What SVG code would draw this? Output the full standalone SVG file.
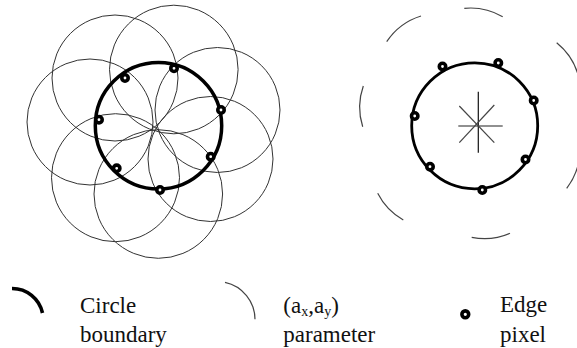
<svg xmlns="http://www.w3.org/2000/svg" width="577" height="348" viewBox="0 0 577 348">
<style>
.thin{fill:none;stroke:#333;stroke-width:1}
.arc{fill:none;stroke:#444;stroke-width:1.2}
.bound{fill:none;stroke:#000;stroke-width:3.2}
.px{fill:#fff;stroke:#000;stroke-width:3.6}
.star{stroke:#444;stroke-width:1.2}
.lbl{font-family:'Liberation Serif','DejaVu Serif',serif;font-size:23px;fill:#111}
</style>
<rect width="577" height="348" fill="#fff"/>
<g id="left-figure">
  <g id="param-circles-left">
    <circle class="thin" cx="115" cy="78" r="63"/>
    <circle class="thin" cx="173.8" cy="69.5" r="64.3"/>
    <circle class="thin" cx="217.5" cy="110" r="62.5"/>
    <circle class="thin" cx="90" cy="122" r="63"/>
    <circle class="thin" cx="210.5" cy="159" r="62.5"/>
    <circle class="thin" cx="115.5" cy="177.7" r="64"/>
    <circle class="thin" cx="158.3" cy="194" r="64.3"/>
  </g>
  <circle id="boundary-left" class="bound" cx="158.5" cy="125.8" r="63.2" style="stroke-width:3.5"/>
  <g id="edge-pixels-left">
    <circle class="px" cx="125" cy="78" r="3.2"/>
    <circle class="px" cx="174" cy="68.3" r="3.2"/>
    <circle class="px" cx="221" cy="110" r="3.2"/>
    <circle class="px" cx="99" cy="119.7" r="3.2"/>
    <circle class="px" cx="210.7" cy="156.7" r="3.2"/>
    <circle class="px" cx="116.7" cy="168.3" r="3.2"/>
    <circle class="px" cx="160" cy="190" r="3.2"/>
  </g>
</g>
<g id="right-figure">
  <g id="param-arcs-right">
    <path class="arc" d="M386.7,41.7 A64,64 0 0 1 421,16"/>
    <path class="arc" d="M464.3,8.3 A64,64 0 0 1 502.7,16.7"/>
    <path class="arc" d="M556.7,42.7 A64,64 0 0 1 580,85"/>
    <path class="arc" d="M362.7,126.7 A64,64 0 0 1 363.3,86"/>
    <path class="arc" d="M580,150 A64,64 0 0 1 566.7,188.3"/>
    <path class="arc" d="M403.3,220 A64,64 0 0 1 377.7,193.3"/>
    <path class="arc" d="M510,233.3 A64,64 0 0 1 471.7,237.3"/>
  </g>
  <circle id="boundary-right" class="bound" cx="474.7" cy="125.8" r="63" style="stroke-width:2.8"/>
  <g id="center-star">
    <line class="star" x1="478.3" y1="91.7" x2="478.3" y2="152.7" style="stroke:#111"/>
    <line class="star" x1="458.3" y1="126" x2="502.7" y2="126" style="stroke:#222"/>
    <line class="star" x1="459.3" y1="106" x2="494.3" y2="142.7"/>
    <line class="star" x1="494.3" y1="105" x2="459.3" y2="142.7"/>
  </g>
  <g id="edge-pixels-right">
    <circle class="px" cx="442.5" cy="66.5" r="3.2"/>
    <circle class="px" cx="498.3" cy="63" r="3.2"/>
    <circle class="px" cx="533.7" cy="100.5" r="3.2"/>
    <circle class="px" cx="414.7" cy="116" r="3.2"/>
    <circle class="px" cx="525.5" cy="159.5" r="3.2"/>
    <circle class="px" cx="430" cy="166.7" r="3.2"/>
    <circle class="px" cx="482.3" cy="190" r="3.2"/>
  </g>
</g>
<g id="legend-boundary">
  <path d="M12,288.5 A31,31 0 0 1 42.5,313" fill="none" stroke="#000" stroke-width="3.6"/>
  <text class="lbl" x="80" y="312.7" font-family="Liberation Serif, serif">Circle</text>
  <text class="lbl" x="80" y="341.5" font-family="Liberation Serif, serif">boundary</text>
</g>
<g id="legend-parameter">
  <path d="M225,282.3 A38,38 0 0 1 255,319.3" fill="none" stroke="#444" stroke-width="1.2"/>
  <text class="lbl" x="283.3" y="312.7" font-family="Liberation Serif, serif">(a<tspan font-size="14" dy="3">x</tspan><tspan dy="-3">,a</tspan><tspan font-size="14" dy="3">y</tspan><tspan dy="-3">)</tspan></text>
  <text class="lbl" x="283.3" y="341.5" font-family="Liberation Serif, serif">parameter</text>
</g>
<g id="legend-edge">
  <circle class="px" cx="465.3" cy="314.3" r="3.4" style="stroke-width:3.6"/>
  <text class="lbl" x="500" y="311.7" font-family="Liberation Serif, serif">Edge</text>
  <text class="lbl" x="500" y="341.5" font-family="Liberation Serif, serif">pixel</text>
</g>
</svg>
